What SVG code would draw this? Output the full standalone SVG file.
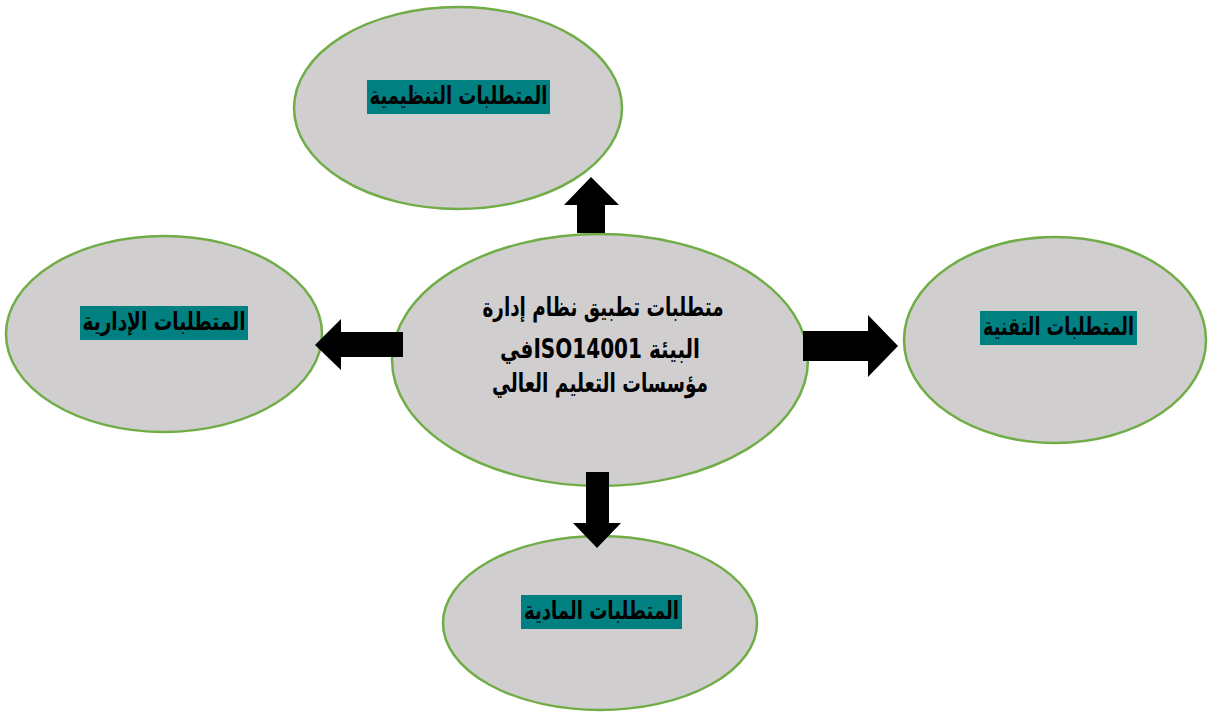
<svg xmlns="http://www.w3.org/2000/svg" width="1208" height="712" viewBox="0 0 1208 712">
<style>
.node{fill:#D0CECE;stroke:#70AD47;stroke-width:2.5}
.lbl{fill:#008080}
.t{font-family:"DejaVu Sans","Noto Sans",sans-serif;font-weight:bold;font-size:25px;fill:#000;text-anchor:middle;direction:rtl}
.c{font-size:26px}
.arr{fill:#000}
</style>
<rect width="1208" height="712" fill="#fff"/>
<g id="center">
<ellipse class="node" cx="600" cy="360" rx="208" ry="126"/>
<text class="t c" x="603" y="316" textLength="241" lengthAdjust="spacingAndGlyphs">متطلبات تطبيق نظام إدارة</text>
<text class="t c" x="600" y="358" textLength="200" lengthAdjust="spacingAndGlyphs">البيئة ISO14001في</text>
<text class="t c" x="600" y="392" textLength="216" lengthAdjust="spacingAndGlyphs">مؤسسات التعليم العالي</text>
</g>
<g id="top">
<ellipse class="node" cx="458" cy="108" rx="164" ry="101"/>
<rect class="lbl" x="367" y="80" width="183" height="34"/>
<text class="t" x="458.5" y="104" textLength="178" lengthAdjust="spacingAndGlyphs">المتطلبات التنظيمية</text>
</g>
<g id="left">
<ellipse class="node" cx="164" cy="334" rx="158" ry="98"/>
<rect class="lbl" x="80" y="306" width="168" height="34"/>
<text class="t" x="164" y="330" textLength="163" lengthAdjust="spacingAndGlyphs">المتطلبات الإدارية</text>
</g>
<g id="right">
<ellipse class="node" cx="1055" cy="340" rx="151" ry="103"/>
<rect class="lbl" x="980" y="311" width="157" height="34"/>
<text class="t" x="1058.5" y="335" textLength="151" lengthAdjust="spacingAndGlyphs">المتطلبات التقنية</text>
</g>
<g id="bottom">
<ellipse class="node" cx="600" cy="623" rx="157" ry="87"/>
<rect class="lbl" x="521" y="595" width="161" height="34"/>
<text class="t" x="601.5" y="619" textLength="155" lengthAdjust="spacingAndGlyphs">المتطلبات المادية</text>
</g>
<g id="connectors">
<polygon class="arr" points="577,233 605,233 605,205 619,205 591,177 564,205 577,205"/>
<polygon class="arr" points="403,332 403,357 341,357 341,370 315,345 341,319 341,332"/>
<polygon class="arr" points="803,331 868,331 868,315 898,346 868,377 868,361 803,361"/>
<polygon class="arr" points="586,472 609,472 609,523 621,523 597,548 573,523 586,523"/>
</g>
</svg>
